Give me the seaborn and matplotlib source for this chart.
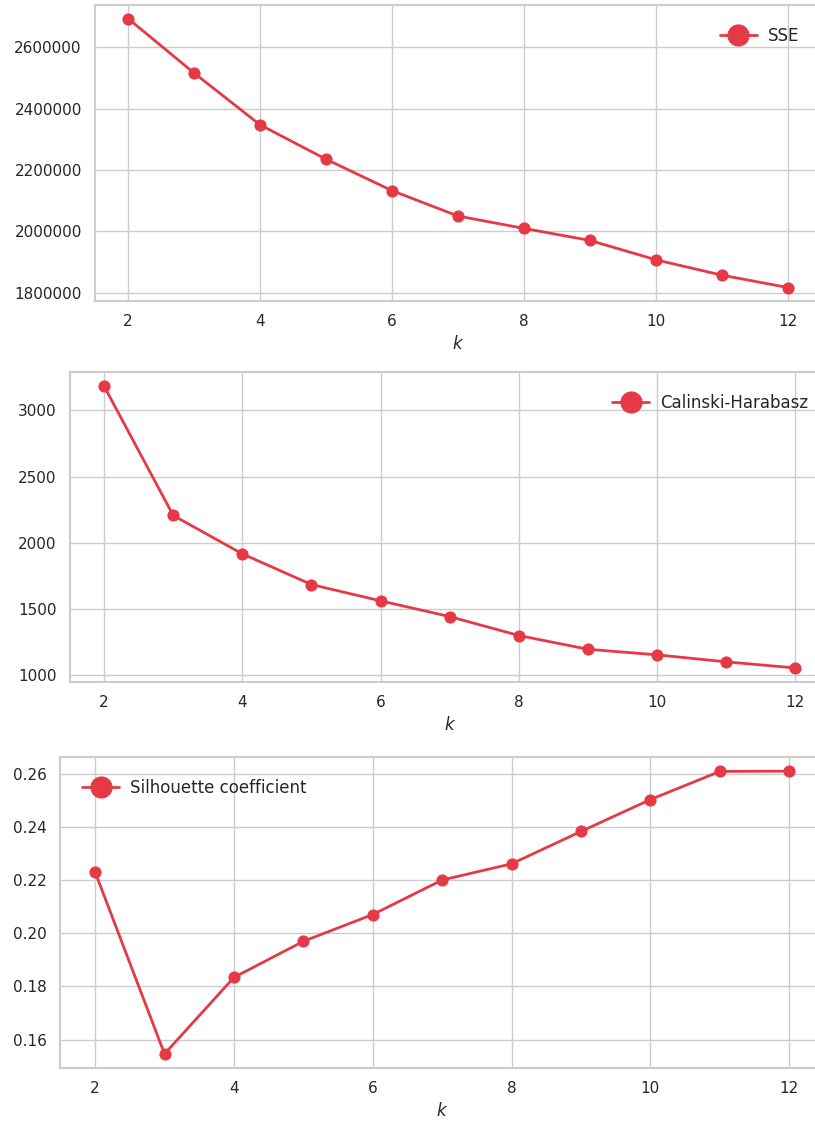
import numpy as np
import pandas as pd
import matplotlib
matplotlib.use("Agg")
import matplotlib.pyplot as plt
import matplotlib.ticker as mticker
import seaborn as sns

# cluster scores for k = 2..12
k_values = [2, 3, 4, 5, 6, 7, 8, 9, 10, 11, 12]
sse = [2693700, 2516100, 2347100, 2234900, 2132400, 2049600,
       2009300, 1970000, 1906800, 1856700, 1816400]
calinski = [3184, 2207, 1917, 1685, 1562, 1443, 1300, 1196, 1154, 1101, 1055]
silhouette = [0.2231, 0.1546, 0.1834, 0.1970, 0.2071, 0.2201,
              0.2262, 0.2384, 0.2504, 0.2610, 0.2611]

sns.set_theme(style="whitegrid", context="notebook")
plt.rcParams['font.family'] = ['DejaVu Sans']

red = "#e63946"

fig = plt.figure(figsize=(8.15, 11.24), dpi=100)
# each panel sits where it does in the reference (they run past the right edge)
ax1 = fig.add_axes([0.1166, 0.7322, 0.8908, 0.2633])
ax2 = fig.add_axes([0.0853, 0.3932, 0.9331, 0.2758])
ax3 = fig.add_axes([0.0741, 0.0498, 0.9369, 0.2767])

panels = [(ax1, sse, "SSE", "upper right"),
          (ax2, calinski, "Calinski-Harabasz", "upper right"),
          (ax3, silhouette, "Silhouette coefficient", "upper left")]

for ax, vals, name, loc in panels:
    df = pd.DataFrame({"k": k_values, name: vals})
    sns.lineplot(data=df, x="k", y=name, marker="o", color=red,
                 linewidth=2, markersize=8, markeredgecolor=red,
                 label=name, ax=ax)
    ax.set_xlabel("$k$", fontsize=12)
    ax.set_ylabel("")
    ax.set_xticks([2, 4, 6, 8, 10, 12])
    ax.legend(loc=loc, frameon=False, markerscale=1.9, fontsize=12,
              handlelength=2.2, handletextpad=0.66, borderaxespad=0.92)
    for s in ax.spines.values():
        s.set_color("#cccccc")
        s.set_linewidth(1.5)

# plain integers on the SSE axis, no offset / scientific notation
fmt = mticker.ScalarFormatter(useOffset=False)
fmt.set_scientific(False)
ax1.yaxis.set_major_formatter(fmt)
ax3.yaxis.set_major_formatter(mticker.FormatStrFormatter("%.2f"))

fig.savefig("out.png", dpi=100)
